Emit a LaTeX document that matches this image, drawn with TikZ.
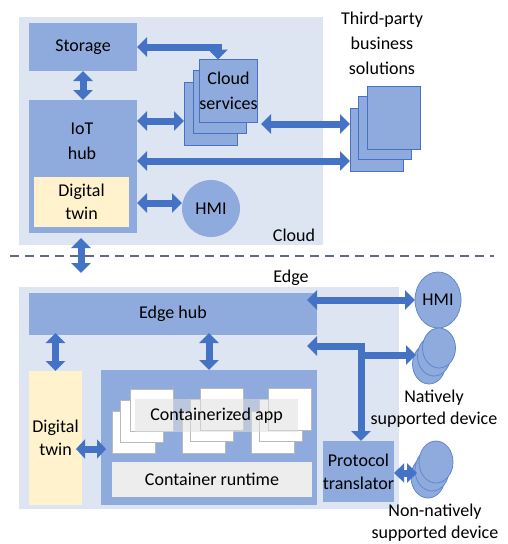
\documentclass[tikz,border=0pt]{standalone}
\usepackage{fontspec}
\setmainfont{Carlito}
\usetikzlibrary{arrows.meta,shapes.geometric}
\definecolor{panel}{HTML}{DDE5F2}
\definecolor{midb}{HTML}{8FAADC}
\definecolor{arr}{HTML}{4472C4}
\definecolor{twin}{HTML}{FFF2CC}
\definecolor{rt}{HTML}{EDEDED}
\definecolor{dashc}{HTML}{5B6B82}
\begin{document}
\begin{tikzpicture}[x=1pt,y=-1pt,
  box/.style={rectangle, inner sep=0pt, outer sep=0pt, align=center, font=\fontsize{18}{23}\selectfont},
  panelbox/.style={box, fill=panel},
  midbox/.style={box, fill=midb},
  twinbox/.style={box, fill=twin},
  sheet/.style={box, fill=midb, draw=arr, line width=0.8pt, minimum width=53pt, minimum height=63pt},
  paper/.style={box, fill=white, draw=gray!55, line width=0.6pt, minimum width=43pt, minimum height=42pt},
  disc/.style={ellipse, inner sep=0pt, outer sep=0pt, fill=midb, draw=arr!85, line width=0.8pt, font=\fontsize{18}{23}\selectfont},
  lbl/.style={align=center, inner sep=0pt, font=\fontsize{18}{24}\selectfont},
  barrow/.style={draw=arr, line width=7pt, {Triangle[width=19pt,length=10pt]}-{Triangle[width=19pt,length=10pt]}},
  sarrow/.style={draw=arr, line width=7pt, -{Triangle[width=19pt,length=10pt]}},
  larrow/.style={draw=arr, line width=7pt, {Triangle[width=19pt,length=10pt]}-},
]
\useasboundingbox (0,0) rectangle (508,544);

% ---------- Cloud ----------
\node[panelbox, minimum width=304pt, minimum height=228pt] (cloud) at (171,131) {};
\node[midbox, minimum width=108pt, minimum height=48pt] (storage) at (83,47) {Storage};
\node[midbox, minimum width=108pt, minimum height=133pt] (iot) at (83,166.5) {};
\node[lbl, font=\fontsize{18}{25}\selectfont] (iotlbl) at (82,141) {IoT\\hub};
\node[twinbox, minimum width=95pt, minimum height=50pt] (twin1) at (81.5,202) {Digital\\twin};

\node[sheet] (cs3) at (210.5,113.5) {};
\node[sheet] (cs2) at (219.5,102) {};
\node[sheet, font=\fontsize{18}{25}\selectfont] (cs1) at (228.5,91) {Cloud\\services};

\node[sheet] (tp3) at (376.5,139.5) {};
\node[sheet] (tp2) at (384.5,127.5) {};
\node[sheet] (tp1) at (393.5,117.5) {};
\node[lbl, font=\fontsize{18}{25}\selectfont] (tplbl) at (382,43) {Third-party\\business\\solutions};

\node[disc, draw=none, minimum width=58pt, minimum height=57pt] (hmi1) at (211,208.5) {HMI};
\node[lbl] (cloudlbl) at (294,235) {Cloud};

\coordinate (a1) at ([yshift=-7.5pt]cs3.west);
\coordinate (a2) at (261,124);
\coordinate (a4) at (300,161);
\coordinate (a5) at (0,203);
\coordinate (a6) at (81,273);

\draw[barrow] (storage.south) -- (iot.north);
\draw[barrow, line join=miter] (storage.east) -| ([xshift=-10.5pt]cs1.north);
\draw[barrow] (iot.east |- a1) -- (a1);
\draw[barrow] (a2) -- (tp3.west |- a2);
\draw[barrow] (iot.east |- a4) -- (tp3.west |- a4);
\draw[barrow] (iot.east |- a5) -- (hmi1.west |- a5);

% ---------- divider ----------
\draw[dashc, line width=1.8pt, dash pattern=on 9pt off 6pt] (10,256) -- (494,256);
\draw[barrow] ([yshift=-5pt]iot.south -| a6) -- (a6);

% ---------- Edge ----------
\node[panelbox, minimum width=380pt, minimum height=222pt] (edge) at (209,398) {};
\node[midbox, minimum width=288pt, minimum height=42pt] (eh) at (173,314) {Edge hub};
\node[lbl] (edgelbl) at (291,278) {Edge};
\node[twinbox, minimum width=53pt, minimum height=134pt] (twin2) at (55.5,438) {Digital\\twin};
\node[midbox, minimum width=216pt, minimum height=135pt] (cbox) at (209,437.5) {};
\node[box, fill=rt, minimum width=200pt, minimum height=35pt] (rt) at (212,479.5) {Container runtime};

\node[paper] (p13) at (133.5,432) {};
\node[paper] (p12) at (142,421.5) {};
\node[paper] (p11) at (151.5,410.5) {};
\node[paper] (p23) at (203.5,432) {};
\node[paper] (p22) at (212,420.5) {};
\node[paper] (p21) at (221.5,409.5) {};
\node[paper] (p33) at (272.5,432) {};
\node[paper] (p32) at (280.5,420.5) {};
\node[paper] (p31) at (289.5,409) {};
\node[box, fill=gray!25, fill opacity=0.55, text opacity=1, minimum width=163pt, minimum height=33pt] (app) at (216.5,415.5) {Containerized app};

\node[midbox, minimum width=63pt, minimum height=61pt] (pt) at (358.5,471.5) {Protocol\\translator};

\node[disc, minimum width=46pt, minimum height=56pt] (hmi2) at (438,300) {HMI};
\node[disc, minimum width=33pt, minimum height=40pt] (nd3) at (429,364) {};
\node[disc, minimum width=33pt, minimum height=40pt] (nd2) at (434,356) {};
\node[disc, minimum width=33pt, minimum height=40pt] (nd1) at (439,348) {};
\node[lbl, font=\fontsize{18}{22}\selectfont] (ndlbl) at (434,409) {Natively\\supported device};

\node[disc, minimum width=34pt, minimum height=42pt] (nn3) at (428,477) {};
\node[disc, minimum width=34pt, minimum height=42pt] (nn2) at (432,470) {};
\node[disc, minimum width=34pt, minimum height=42pt] (nn1) at (436,462) {};
\node[lbl, font=\fontsize{18}{22}\selectfont] (nnlbl) at (435,523) {Non-natively\\supported device};

\coordinate (a7) at (76,449);
\coordinate (a7b) at (106,449);
\coordinate (a8) at (307,300);
\coordinate (a9) at (307,346);
\coordinate (j1) at (364.5,346);
\coordinate (j2) at (361,342.5);
\coordinate (j3) at (357.5,355);
\coordinate (a10) at (416,355);
\coordinate (a11) at (417,473);

\draw[barrow] ([yshift=2pt]eh.south -| twin2.north) -- (twin2.north);
\draw[barrow] ([yshift=2pt]eh.south -| cbox.north) -- (cbox.north);
\draw[barrow, {Triangle[width=19pt,length=9pt]}-{Triangle[width=19pt,length=9pt]}] (a7) -- (a7b);
\draw[barrow] (a8) -- (hmi2.west |- a8);
\draw[larrow] (a9) -- (j1);
\draw[sarrow] (j2) -- (pt.north -| j2);
\draw[sarrow] (j3) -- (a10);
\draw[barrow] (pt.east |- a11) -- (a11);
\end{tikzpicture}
\end{document}
